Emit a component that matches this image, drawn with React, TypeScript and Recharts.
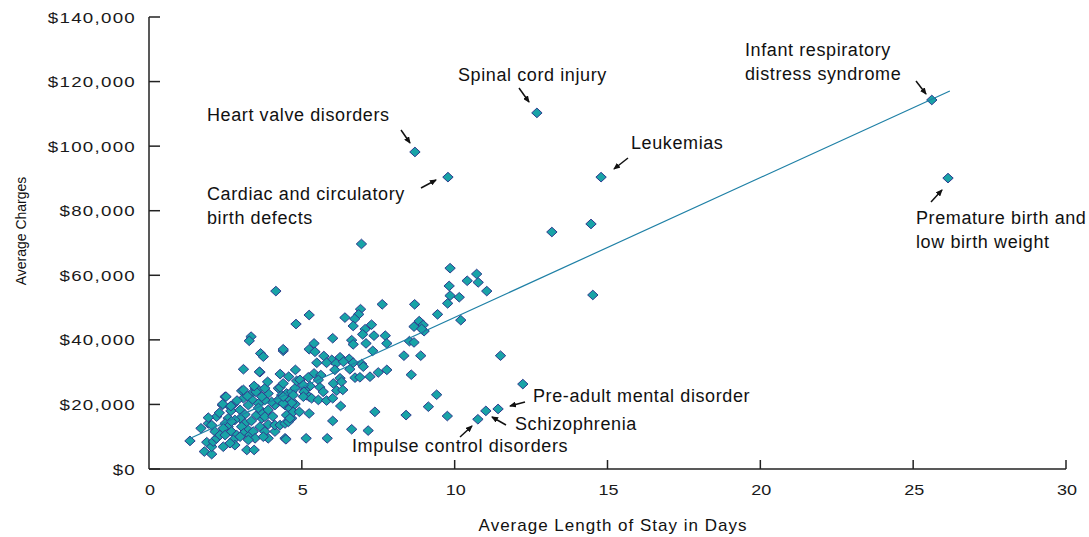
import { ScatterChart, Scatter, XAxis, YAxis } from 'recharts'

// [average length of stay (days), average charges ($)]
const shortStays: [number, number][] = [
  [1.34, 8700], [1.70, 12600], [1.94, 14100], [1.89, 8300], [1.81, 5400], [2.05, 4600], [2.05, 6900],
  [2.10, 8500], [2.21, 9500], [2.16, 11600], [2.05, 13600], [2.21, 16200], [1.94, 15900], [2.40, 19800],
  [2.49, 22400], [2.65, 19300], [2.76, 20000], [2.68, 18000], [2.59, 15700], [2.49, 14100], [2.59, 13100],
  [2.43, 12600], [2.32, 10500], [2.49, 10500], [2.70, 11600], [2.87, 10500], [2.76, 9000], [2.81, 7400],
  [2.65, 8000], [2.43, 6900], [3.20, 5900], [3.44, 5900], [3.03, 24200], [3.09, 21900], [3.36, 23400],
  [3.47, 25000], [3.38, 21400], [3.25, 19800], [2.98, 18300], [3.14, 16900], [2.98, 15700], [2.81, 15200],
  [3.14, 14100], [3.03, 13100], [3.25, 12100], [3.09, 11000], [2.98, 10000], [3.30, 10500], [3.41, 11600],
  [3.47, 9500], [3.25, 9000], [3.69, 15700], [3.52, 16700], [3.69, 17700], [3.79, 16200], [3.90, 13800],
  [3.63, 13100], [3.79, 11600], [3.90, 9500], [3.74, 10000], [4.12, 11600], [4.12, 13600], [4.29, 13600],
  [4.45, 9500], [3.90, 18300], [4.12, 19800], [4.01, 20800], [3.58, 20300], [3.79, 21400], [3.90, 23400],
  [3.69, 22400], [3.58, 24500], [3.79, 25000], [4.23, 25000], [4.34, 22900], [4.23, 21400], [4.56, 21900],
  [4.50, 23400], [4.67, 23900], [4.78, 25000], [4.45, 19800], [4.61, 18800], [4.50, 16700], [4.67, 15700],
  [4.72, 17700], [2.52, 22400], [2.41, 20100], [2.68, 19500], [3.22, 22600], [3.50, 23900], [3.88, 27000],
  [3.44, 25700], [3.09, 24500], [4.29, 25300], [4.39, 26500], [4.83, 27300], [4.57, 28600], [4.79, 30700],
  [4.29, 29400], [3.63, 30000], [3.09, 30900], [3.61, 30100], [3.65, 35800], [3.74, 34800], [4.39, 36600],
  [4.39, 37100], [3.34, 41000], [3.28, 39700], [4.81, 44900], [4.15, 55100], [4.48, 9200], [4.45, 14100],
  [4.56, 14600], [4.61, 15700], [4.92, 17700], [4.78, 20100], [4.67, 20500], [4.39, 20300], [4.39, 22400],
  [4.72, 22900], [2.30, 17400], [2.88, 21200], [3.58, 18900], [4.05, 16300], [3.35, 14900], [2.70, 14700],
]

const midStays: [number, number][] = [
  [5.24, 47700], [6.92, 49500], [6.86, 47900], [6.41, 46900], [6.73, 46500], [6.68, 44300], [7.28, 44700],
  [7.07, 43300], [6.99, 41700], [7.36, 41300], [6.01, 40500], [6.63, 39900], [7.10, 38900], [6.68, 38600],
  [5.40, 38900], [5.24, 37100], [5.43, 36300], [7.32, 36600], [5.72, 35000], [6.25, 34600], [6.55, 34100],
  [5.98, 33800], [5.49, 32900], [5.81, 32900], [6.12, 32700], [6.68, 32900], [6.96, 32500], [6.36, 33200],
  [6.08, 30700], [6.57, 30900], [7.01, 31700], [7.78, 30700], [7.50, 29900], [7.23, 28600], [6.74, 28300],
  [6.90, 28400], [5.40, 29600], [5.62, 29100], [5.21, 28400], [5.54, 27600], [6.25, 28100], [6.03, 26500],
  [6.30, 27000], [5.27, 25700], [5.59, 25300], [6.14, 24300], [6.34, 24500], [4.94, 27600], [5.10, 24500],
  [5.16, 22900], [5.05, 26000], [5.07, 23900], [5.24, 22400], [5.05, 22400], [5.32, 21900], [5.54, 21400],
  [5.81, 21200], [6.01, 21900], [5.70, 23900], [6.27, 19500], [7.39, 17700], [6.01, 14900], [6.63, 12300],
  [7.17, 11900], [5.14, 9500], [5.83, 9500], [5.24, 17200], [6.95, 69700], [7.63, 51000], [7.73, 41300],
  [7.78, 38900],
]

const longStays: [number, number][] = [
  [9.85, 62200], [10.72, 60400], [10.41, 58300], [10.77, 57800], [9.82, 56700], [11.05, 55100],
  [9.85, 53700], [10.15, 53200], [9.77, 51300], [8.69, 51000], [9.44, 47900], [10.20, 46100],
  [8.84, 45800], [8.67, 44100], [8.97, 44600], [9.00, 42700], [8.92, 43400], [8.52, 39600],
  [8.67, 39200], [8.34, 35100], [8.89, 35100], [11.50, 35100], [8.58, 29200], [9.41, 23000],
  [9.14, 19300], [8.41, 16700], [9.76, 16400], [12.23, 26300], [14.46, 75900], [13.18, 73400],
  [14.52, 53900],
]

// labelled conditions
const namedStays: [number, number][] = [
  [8.70, 98200],   // Heart valve disorders
  [9.78, 90400],   // Cardiac and circulatory birth defects
  [12.69, 110300], // Spinal cord injury
  [14.79, 90400],  // Leukemias
  [25.61, 114300], // Infant respiratory distress syndrome
  [26.14, 90100],  // Premature birth and low birth weight
  [11.42, 18600],  // Pre-adult mental disorder
  [11.02, 18000],  // Schizophrenia
  [10.76, 15400],  // Impulse control disorders
]

const trendLine: [number, number][] = [[1.3, 9300], [26.2, 117100]]

const xTicks = [0, 5, 10, 15, 20, 25, 30]
const yTicks = [0, 20000, 40000, 60000, 80000, 100000, 120000, 140000]

const points = [...shortStays, ...midStays, ...longStays, ...namedStays].map(([x, y]) => ({ x, y }))
const trend = trendLine.map(([x, y]) => ({ x, y }))

const AXIS = '#222'
const SANS = '"Liberation Sans", Arial, sans-serif'
const noteFont = { fontFamily: SANS, fontSize: 18, letterSpacing: 0.6, fill: '#111' }

function Diamond(props: any) {
  const { cx, cy } = props
  if (cx == null || cy == null) return <g />
  return (
    <polygon
      points={`${cx},${cy - 4.8} ${cx + 5.2},${cy} ${cx},${cy + 4.8} ${cx - 5.2},${cy}`}
      fill="#18a3a7" stroke="#2e3b8e" strokeWidth={1}
    />
  )
}

// the original's labels are horizontally stretched, so scale them
function YTick({ x, y, payload }: any) {
  return (
    <g>
      <line x1={x} x2={x + 11} y1={y} y2={y} stroke={AXIS} strokeWidth={1.5} />
      <text transform={`translate(${x - 13},${y + 5.5}) scale(1.25,1)`} textAnchor="end"
        fontFamily={SANS} fontSize={15} letterSpacing={1} fill="#1a1a1a">
        ${payload.value.toLocaleString('en-US')}
      </text>
    </g>
  )
}

function XTick({ x, y, payload }: any) {
  return (
    <g>
      {payload.value > 0 && <line x1={x} x2={x} y1={y - 9} y2={y} stroke={AXIS} strokeWidth={1.5} />}
      <text transform={`translate(${x + 1},${y + 26}) scale(1.2,1)`} textAnchor="middle"
        fontFamily={SANS} fontSize={15} fill="#1a1a1a">{payload.value}</text>
    </g>
  )
}

// annotation text and arrows (pixel positions)
const notes = [
  { lines: ['Spinal cord injury'], x: 458, y: 81, arrow: [519, 88, 529, 102] },
  { lines: ['Infant respiratory', 'distress syndrome'], x: 745, y: 56, arrow: [916, 81, 926, 94] },
  { lines: ['Heart valve disorders'], x: 207, y: 121, arrow: [401, 130, 410, 143] },
  { lines: ['Leukemias'], x: 631, y: 149, arrow: [628, 158, 614, 169] },
  { lines: ['Cardiac and circulatory', 'birth defects'], x: 207, y: 200, arrow: [421, 188, 436, 180] },
  { lines: ['Premature birth and', 'low birth weight'], x: 916, y: 224, arrow: [931, 202, 942, 190] },
  { lines: ['Pre-adult mental disorder'], x: 533, y: 402, arrow: [525, 402, 510, 406] },
  { lines: ['Schizophrenia'], x: 515, y: 430, arrow: [506, 425, 492, 417] },
  { lines: ['Impulse control disorders'], x: 352, y: 452, arrow: [460, 437, 472, 426] },
]

function Overlay() {
  return (
    <svg width={1089} height={537} style={{ position: 'absolute', left: 0, top: 0, pointerEvents: 'none' }}>
      <defs>
        <marker id="head" markerWidth={7} markerHeight={6} refX={6} refY={3} orient="auto" markerUnits="userSpaceOnUse">
          <path d="M0,0 L7,3 L0,6 Z" fill="#111" />
        </marker>
      </defs>
      {notes.map((n, i) => (
        <g key={i}>
          {n.lines.map((t, j) => (
            <text key={j} x={n.x} y={n.y + j * 24} {...noteFont}>{t}</text>
          ))}
          <line x1={n.arrow[0]} y1={n.arrow[1]} x2={n.arrow[2]} y2={n.arrow[3]} stroke="#111" strokeWidth={1.5} markerEnd="url(#head)" />
        </g>
      ))}
      <text x={26} y={231} transform="rotate(-90 26 231)" textAnchor="middle"
        fontFamily={SANS} fontSize={14} fill="#111">Average Charges</text>
      <text x={613} y={531} textAnchor="middle" fontFamily={SANS} fontSize={17} letterSpacing={1} fill="#111">
        Average Length of Stay in Days
      </text>
    </svg>
  )
}

export default function App() {
  return (
    <div style={{ position: 'absolute', left: 0, top: 0, width: 1089, height: 537, background: '#fff' }}>
      <ScatterChart width={1089} height={537} margin={{ top: 17, right: 23, bottom: 0, left: 0 }}>
        <XAxis type="number" dataKey="x" domain={[0, 30]} ticks={xTicks} interval={0} height={68}
          tickLine={false} tickSize={0} tickMargin={0} axisLine={{ stroke: AXIS, strokeWidth: 1.5 }} tick={<XTick />} />
        <YAxis type="number" dataKey="y" domain={[0, 140000]} ticks={yTicks} interval={0} width={149}
          tickLine={false} tickSize={0} tickMargin={0} axisLine={{ stroke: AXIS, strokeWidth: 1.5 }} tick={<YTick />} />
        <Scatter data={points} shape={Diamond} isAnimationActive={false} />
        <Scatter data={trend} line={{ stroke: '#1f80a6', strokeWidth: 1.2 }} shape={() => <g />} isAnimationActive={false} />
      </ScatterChart>
      <Overlay />
    </div>
  )
}
